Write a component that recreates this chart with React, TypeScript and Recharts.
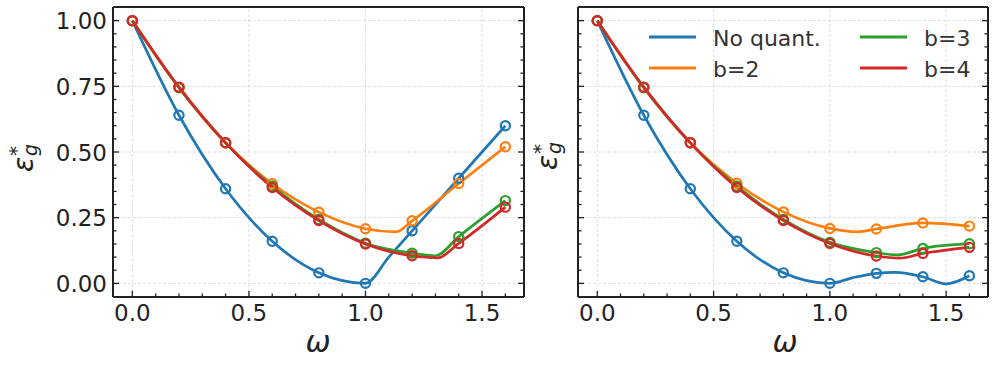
import React from "react";
import { ComposedChart, Line, XAxis, YAxis, ReferenceLine } from "recharts";

// marker positions (omega)
const omega = [0, 0.2, 0.4, 0.6, 0.8, 1.0, 1.2, 1.4, 1.6];

// left panel, values at the markers
const leftNoQuant = [1.0, 0.64, 0.36, 0.16, 0.04, 0.0, 0.2, 0.4, 0.6];
const leftB2 = [1.0, 0.745, 0.535, 0.379, 0.271, 0.208, 0.238, 0.38, 0.52];
const leftB3 = [1.0, 0.745, 0.535, 0.37, 0.243, 0.153, 0.115, 0.178, 0.315];
const leftB4 = [1.0, 0.747, 0.535, 0.365, 0.239, 0.15, 0.105, 0.152, 0.29];

// left panel, extra curve points read where the lines bend between markers
const leftNoQuantBends = [[1.1, 0.1], [1.3, 0.3], [1.5, 0.5]];
const leftB2Bends = [[1.13, 0.196]];
const leftB3Bends = [[1.3, 0.105]];
const leftB4Bends = [[1.31, 0.097]];

// right panel, values at the markers
const rightNoQuant = [1.0, 0.64, 0.36, 0.16, 0.04, 0.0, 0.038, 0.025, 0.029];
const rightB2 = [1.0, 0.745, 0.535, 0.381, 0.272, 0.209, 0.207, 0.23, 0.218];
const rightB3 = [1.0, 0.745, 0.535, 0.37, 0.243, 0.156, 0.117, 0.133, 0.151];
const rightB4 = [1.0, 0.747, 0.535, 0.365, 0.239, 0.152, 0.104, 0.114, 0.137];

// right panel bends
const rightNoQuantBends = [[1.1, 0.022], [1.28, 0.042], [1.5, -0.002]];
const rightB2Bends = [[1.12, 0.196]];
const rightB3Bends = [[1.29, 0.108]];
const rightB4Bends = [[1.3, 0.096]];

// ticks
const xTicks = [0, 0.1, 0.2, 0.3, 0.4, 0.5, 0.6, 0.7, 0.8, 0.9, 1.0, 1.1, 1.2, 1.3, 1.4, 1.5, 1.6];
const xMajor = [0, 0.5, 1.0, 1.5];
const yTicks = [0, 0.05, 0.1, 0.15, 0.2, 0.25, 0.3, 0.35, 0.4, 0.45, 0.5, 0.55, 0.6, 0.65, 0.7, 0.75, 0.8, 0.85, 0.9, 0.95, 1.0];
const yMajor = [0, 0.25, 0.5, 0.75, 1.0];

const seriesNames = ["No quant.", "b=2", "b=3", "b=4"];
const colors = ["#1f77b4", "#ff7f0e", "#2ca02c", "#d62728"];

const FONT = "'DejaVu Sans', sans-serif";
const INK = "#222";
const xDomain = [-0.083, 1.68];
const yDomain = [-0.052, 1.052];

const markerPoints = (vals: number[]) => omega.map((w, i) => ({ w, e: vals[i] }));
const curvePoints = (vals: number[], bends: number[][]) =>
  [...markerPoints(vals), ...bends.map(([w, e]) => ({ w, e }))].sort((a, b) => a.w - b.w);

const isMajor = (v: number, list: number[]) => list.some((m) => Math.abs(m - v) < 1e-6);

// ticks point inward; tickSize/tickMargin are 0 so x,y sit on the axis line
const XTick = ({ x, y, payload, side, label }: any) => {
  const major = isMajor(payload.value, xMajor);
  const len = major ? 6 : 3.5;
  const dir = side === "bottom" ? -1 : 1;
  return (
    <g>
      <line x1={x} y1={y} x2={x} y2={y + dir * len} stroke={INK} strokeWidth={1.3} />
      {label && major && (
        <text x={x} y={y + 24} textAnchor="middle" fontSize={23} fontFamily={FONT} fill={INK}>
          {payload.value.toFixed(1)}
        </text>
      )}
    </g>
  );
};

const YTick = ({ x, y, payload, side, label }: any) => {
  const major = isMajor(payload.value, yMajor);
  const len = major ? 6 : 3.5;
  const dir = side === "left" ? 1 : -1;
  return (
    <g>
      <line x1={x} y1={y} x2={x + dir * len} y2={y} stroke={INK} strokeWidth={1.3} />
      {label && major && (
        <text x={x - 6} y={y + 8.5} textAnchor="end" fontSize={23} fontFamily={FONT} fill={INK}>
          {payload.value.toFixed(2)}
        </text>
      )}
    </g>
  );
};

const axisLine = { stroke: INK, strokeWidth: 2 };

interface PanelProps {
  left: number;
  width: number;
  margin: { top: number; right: number; bottom: number; left: number };
  values: number[][];
  bends: number[][][];
  yLabels: boolean;
}

const Panel: React.FC<PanelProps> = ({ left, width, margin, values, bends, yLabels }) => (
  <div style={{ position: "absolute", left, top: 0 }}>
    <ComposedChart width={width} height={368} margin={margin}>
      <XAxis xAxisId="b" dataKey="w" type="number" domain={xDomain} allowDataOverflow ticks={xTicks}
        interval={0} height={1} tickSize={0} tickMargin={0} axisLine={axisLine} tickLine={false}
        tick={(p: any) => <XTick {...p} side="bottom" label />} />
      <XAxis xAxisId="t" orientation="top" type="number" domain={xDomain} allowDataOverflow ticks={xTicks}
        interval={0} height={1} tickSize={0} tickMargin={0} axisLine={axisLine} tickLine={false}
        tick={(p: any) => <XTick {...p} side="top" />} />
      <YAxis yAxisId="l" type="number" domain={yDomain} allowDataOverflow ticks={yTicks}
        interval={0} width={1} tickSize={0} tickMargin={0} axisLine={axisLine} tickLine={false}
        tick={(p: any) => <YTick {...p} side="left" label={yLabels} />} />
      <YAxis yAxisId="r" orientation="right" type="number" domain={yDomain} allowDataOverflow ticks={yTicks}
        interval={0} width={1} tickSize={0} tickMargin={0} axisLine={axisLine} tickLine={false}
        tick={(p: any) => <YTick {...p} side="right" />} />

      {xMajor.map((v) => (
        <ReferenceLine key={"gx" + v} x={v} xAxisId="b" yAxisId="l" stroke="#d4d4d4" strokeWidth={0.8} strokeDasharray="3 2" />
      ))}
      {yMajor.map((v) => (
        <ReferenceLine key={"gy" + v} y={v} xAxisId="b" yAxisId="l" stroke="#d4d4d4" strokeWidth={0.8} strokeDasharray="3 2" />
      ))}

      {values.map((vals, i) => (
        <Line key={"c" + i} xAxisId="b" yAxisId="l" data={curvePoints(vals, bends[i])} dataKey="e"
          type="monotone" stroke={colors[i]} strokeWidth={2.7} dot={false} isAnimationActive={false} />
      ))}
      {values.map((vals, i) => (
        <Line key={"m" + i} xAxisId="b" yAxisId="l" data={markerPoints(vals)} dataKey="e"
          stroke="none" dot={{ r: 4.6, stroke: colors[i], strokeWidth: 2.2, fill: "none" }}
          activeDot={false} isAnimationActive={false} />
      ))}
    </ComposedChart>
  </div>
);

const YLabel = ({ x, y }: { x: number; y: number }) => (
  <g transform={`translate(${x},${y}) rotate(-90)`} fontFamily={FONT} fill={INK}>
    <text x={0} y={0} fontSize={28} fontStyle="italic">ε</text>
    <text x={16} y={-10} fontSize={20}>*</text>
    <text x={16} y={4} fontSize={19} fontStyle="italic">g</text>
  </g>
);

export default function App() {
  return (
    <div style={{ position: "absolute", left: 0, top: 0, width: 997, height: 368, background: "#fff" }}>
      <Panel left={0} width={540} margin={{ top: 6, right: 15, bottom: 70, left: 112 }}
        values={[leftNoQuant, leftB2, leftB3, leftB4]}
        bends={[leftNoQuantBends, leftB2Bends, leftB3Bends, leftB4Bends]} yLabels />
      <Panel left={545} width={452} margin={{ top: 6, right: 8, bottom: 70, left: 32 }}
        values={[rightNoQuant, rightB2, rightB3, rightB4]}
        bends={[rightNoQuantBends, rightB2Bends, rightB3Bends, rightB4Bends]} yLabels={false} />

      <svg width={997} height={368} style={{ position: "absolute", left: 0, top: 0, pointerEvents: "none" }}>
        <YLabel x={33} y={172} />
        <YLabel x={557} y={170} />
        <text x={318} y={352} textAnchor="middle" fontSize={30} fontStyle="italic" fontFamily={FONT} fill={INK}>ω</text>
        <text x={785} y={352} textAnchor="middle" fontSize={30} fontStyle="italic" fontFamily={FONT} fill={INK}>ω</text>

        {seriesNames.map((name, i) => {
          const col = i < 2 ? 0 : 1;
          const row = i % 2;
          const hx = col === 0 ? 649 : 860;
          const cy = row === 0 ? 37 : 68;
          return (
            <g key={name}>
              <line x1={hx} x2={hx + 47} y1={cy} y2={cy} stroke={colors[i]} strokeWidth={3} />
              <text x={hx + 64} y={cy + 8.5} fontSize={22} fontFamily={FONT} fill="#333">{name}</text>
            </g>
          );
        })}
      </svg>
    </div>
  );
}
